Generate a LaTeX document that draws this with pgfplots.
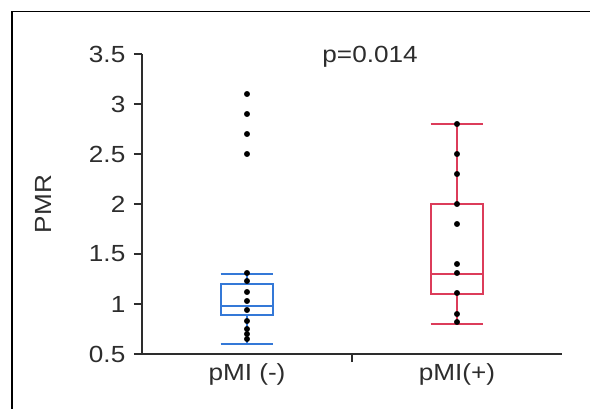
\documentclass[border=0pt]{standalone}
\usepackage{pgfplots}
\pgfplotsset{compat=1.18}
\usepackage{fontspec}
\setmainfont{Liberation Sans}[FakeStretch=1.12]
\definecolor{bxblue}{RGB}{52,120,215}
\definecolor{bxred}{RGB}{220,60,90}
\definecolor{txt}{RGB}{45,45,45}
\usepgfplotslibrary{statistics}
\begin{document}
\begin{tikzpicture}
\path[use as bounding box] (0pt,0pt) rectangle (442.5pt,306pt);
\draw[black, line width=1.1pt] (9pt,-5pt) -- (9pt,297.2pt) -- (450pt,297.2pt);
\begin{axis}[
  at={(106.5pt,40.5pt)}, anchor=south west,
  scale only axis, width=315pt, height=225pt,
  xmin=-0.5, xmax=1.5, ymin=0.5, ymax=3.5,
  axis x line=bottom, axis y line=left,
  axis line style={-, txt, line width=0.8pt},
  tick style={draw=txt, line width=0.8pt},
  tick align=outside,
  major tick length=6pt,
  xtick={0.5}, xticklabels={},
  extra x ticks={0,1}, extra x tick labels={pMI (-),pMI(+)},
  extra x tick style={major tick length=0pt},
  ytick={0.5,1,1.5,2,2.5,3,3.5},
  yticklabels={0.5,1,1.5,2,2.5,3,3.5},
  ticklabel style={font=\fontsize{17.5}{20}\selectfont, text=txt},
  yticklabel style={xshift=-3pt},
  xticklabel style={yshift=-4pt},
  ylabel={PMR},
  ylabel style={font=\fontsize{17.5}{20}\selectfont, text=txt, at={(axis description cs:-0.235,0.5)}, anchor=center, rotate=0},
  clip=false,
]
\addplot+[boxplot/draw direction=y, boxplot prepared={draw position=0, median=0.98, lower quartile=0.89, upper quartile=1.2, lower whisker=0.6, upper whisker=1.3, box extend=0.25, whisker extend=0.25}, draw=bxblue, line width=1.8pt, solid, mark=none] coordinates {};
\addplot+[boxplot/draw direction=y, boxplot prepared={draw position=1, median=1.3, lower quartile=1.1, upper quartile=2.0, lower whisker=0.8, upper whisker=2.8, box extend=0.25, whisker extend=0.25}, draw=bxred, line width=1.8pt, solid, mark=none] coordinates {};
\addplot[only marks, mark=*, mark size=2pt, black] coordinates {
(0,3.1) (0,2.9) (0,2.7) (0,2.5)
(0,1.31) (0,1.23) (0,1.12) (0,1.03) (0,0.94) (0,0.83) (0,0.75) (0,0.7) (0,0.65)
};
\addplot[only marks, mark=*, mark size=2pt, black] coordinates {
(1,2.8) (1,2.5) (1,2.3) (1,2.0) (1,1.8) (1,1.4) (1,1.31) (1,1.11) (1,0.9) (1,0.82)
};
\node[font=\fontsize{17.5}{20}\selectfont, text=txt] at (axis cs:0.586,3.47) {p=0.014};
\end{axis}
\end{tikzpicture}
\end{document}
